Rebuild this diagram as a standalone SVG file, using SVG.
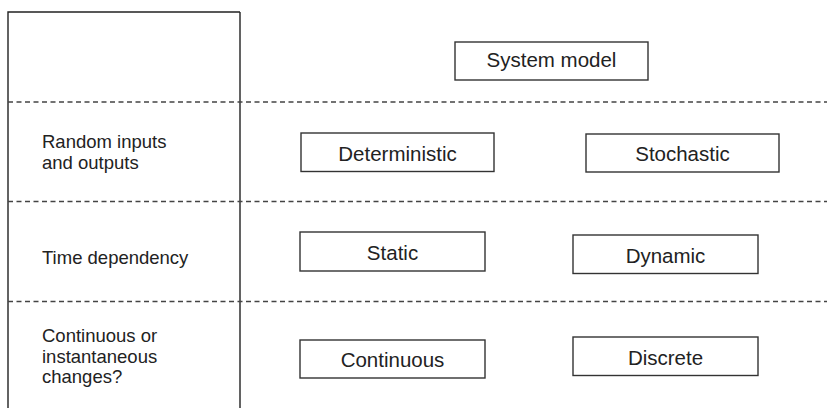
<svg xmlns="http://www.w3.org/2000/svg" width="827" height="408" viewBox="0 0 827 408">
<style>
.frame{stroke:#222;stroke-width:1.4;fill:none}
.dash{stroke:#444;stroke-width:1.3;stroke-dasharray:5 3.5;fill:none}
.box{fill:#fff;stroke:#333;stroke-width:1.4}
.lbl{font-family:"Liberation Sans",Arial,sans-serif;font-size:18.5px;fill:#222}
.btxt{font-family:"Liberation Sans",Arial,sans-serif;font-size:20.5px;fill:#222;text-anchor:middle}
</style>
<rect width="827" height="408" fill="#fff"/>
<g id="grid">
<path class="frame" d="M8,408 V12 H240 M240,12 V408"/>
<path class="dash" d="M8,102 H827 M8,201.5 H827 M8,301.5 H827"/>
</g>
<g id="row-labels">
<text class="lbl" x="42" y="148">Random inputs</text>
<text class="lbl" x="42" y="169">and outputs</text>
<text class="lbl" x="42" y="264">Time dependency</text>
<text class="lbl" x="42" y="342">Continuous or</text>
<text class="lbl" x="42" y="362.5">instantaneous</text>
<text class="lbl" x="42" y="383">changes?</text>
</g>
<g id="connectors"></g>
<g id="system-model"><rect class="box" x="455" y="42" width="193" height="38"/><text class="btxt" x="551.5" y="67">System model</text></g>
<g id="deterministic"><rect class="box" x="301" y="133" width="193" height="38.5"/><text class="btxt" x="397.5" y="161">Deterministic</text></g>
<g id="stochastic"><rect class="box" x="586" y="134" width="193" height="38"/><text class="btxt" x="682.5" y="160.5">Stochastic</text></g>
<g id="static"><rect class="box" x="300" y="232" width="185" height="39"/><text class="btxt" x="392.5" y="260">Static</text></g>
<g id="dynamic"><rect class="box" x="573" y="235" width="185" height="38.5"/><text class="btxt" x="665.5" y="263">Dynamic</text></g>
<g id="continuous"><rect class="box" x="300" y="340" width="185" height="38"/><text class="btxt" x="392.5" y="367">Continuous</text></g>
<g id="discrete"><rect class="box" x="573" y="337" width="185" height="38.5"/><text class="btxt" x="665.5" y="365">Discrete</text></g>
</svg>
